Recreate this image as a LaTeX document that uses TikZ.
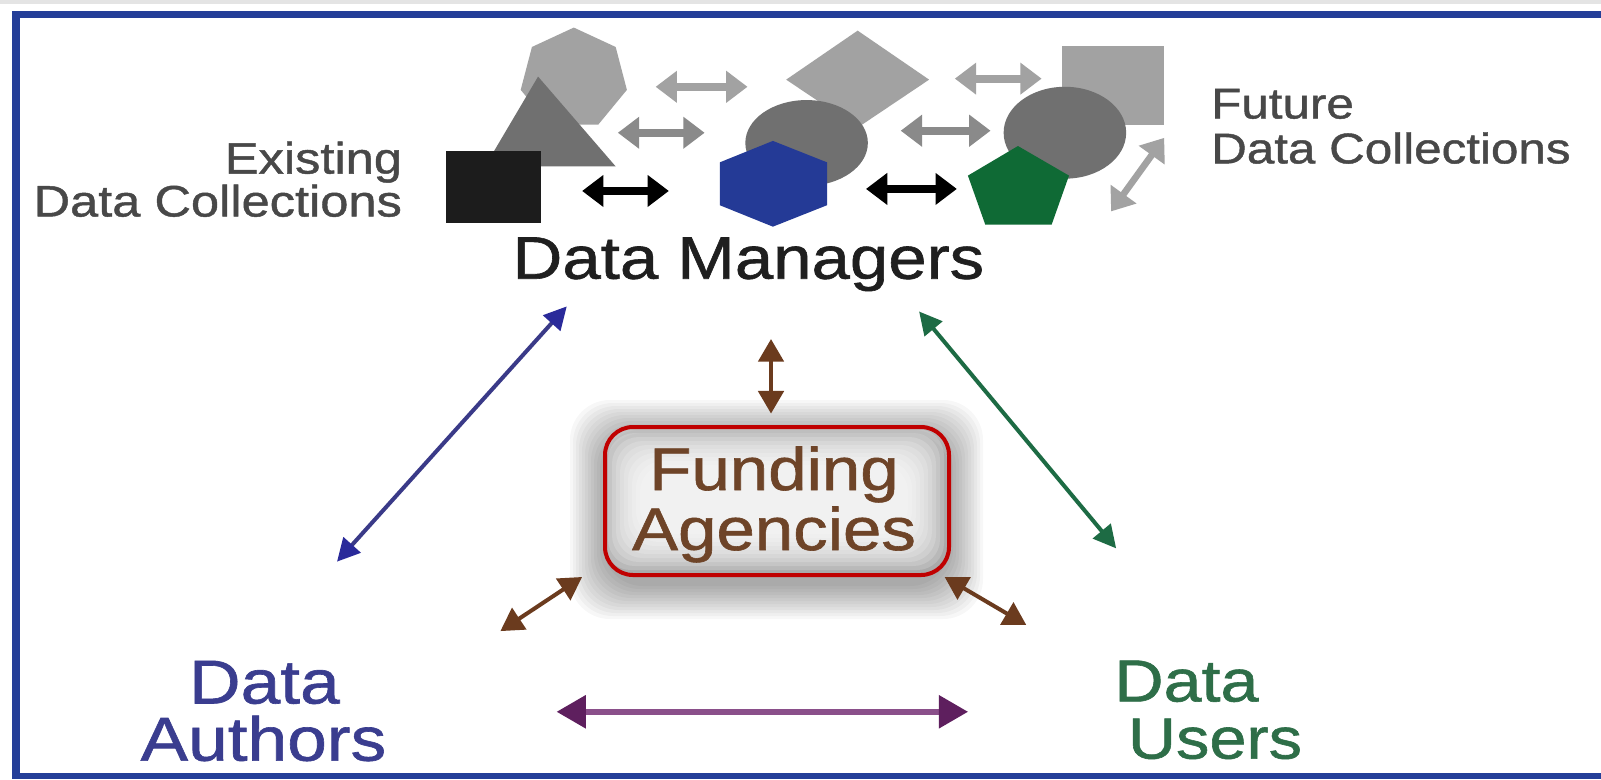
\documentclass[tikz,border=0pt]{standalone}
\usepackage{fontspec}
\setmainfont{Liberation Sans}[FakeStretch=1.15,FakeBold=1]
\usetikzlibrary{arrows.meta,shapes.geometric}
\definecolor{frameblue}{HTML}{243E98}
\definecolor{stripgray}{HTML}{E4E4E4}
\definecolor{sqblack}{HTML}{1C1C1C}
\definecolor{lgray}{HTML}{A2A2A2}
\definecolor{mgray}{HTML}{707070}
\definecolor{agray}{HTML}{8A8A8A}
\definecolor{txtgray}{HTML}{484848}
\definecolor{hexblue}{HTML}{243A96}
\definecolor{pentgreen}{HTML}{0F6A35}
\definecolor{brownc}{HTML}{6B3B1E}
\definecolor{fundbrown}{HTML}{6E4428}
\definecolor{navyc}{HTML}{3A3A88}
\definecolor{navyhead}{HTML}{2A2A9A}
\definecolor{greenc}{HTML}{1D6B44}
\definecolor{authblue}{HTML}{3A3D8F}
\definecolor{usergreen}{HTML}{2E6E48}
\definecolor{purplec}{HTML}{8A4F8A}
\definecolor{purplehead}{HTML}{5E1F5E}
\definecolor{boxred}{HTML}{C00000}
\tikzset{
  lbl/.style={inner sep=0pt},
  topar/.style={line width=6pt,{Triangle[length=16pt,width=23pt]}-{Triangle[length=16pt,width=23pt]}},
  linkar/.style={line width=3pt,{Triangle[length=17pt,width=17pt]}-{Triangle[length=17pt,width=17pt]}},
  smallar/.style={line width=3pt,{Triangle[length=17pt,width=19pt]}-{Triangle[length=17pt,width=19pt]}},
}
\begin{document}
\begin{tikzpicture}[x=0.75pt,y=-0.75pt]
\useasboundingbox (0,0) rectangle (1601,779);
\fill[white] (0,0) rectangle (1601,779);
% frame
\fill[stripgray] (0,0) rectangle (1601,4);
\fill[frameblue] (12,11) rectangle (1601,18);
\fill[frameblue] (12,11) rectangle (20,779);
\fill[frameblue] (12,773) rectangle (1601,779);

% funding box glow (true coordinates)
\foreach \i in {1,...,12} {
  \fill[black,opacity=0.03,rounded corners=30pt] ({567+3*\i},{397+3*\i}) rectangle ({986-3*\i},{622-3*\i});
}
\foreach \i in {1,...,10} {
  \fill[white,opacity=0.18,rounded corners=20pt] ({600+4*\i},{425+4*\i}) rectangle ({948-4*\i},{574-4*\i});
}
\node[draw=boxred,line width=3pt,rounded corners=21pt,minimum width=258pt,minimum height=111pt,inner sep=0pt] (box) at (777,501) {};
\node[lbl,anchor=base,color=fundbrown,font=\fontsize{45}{45}\selectfont] (fa1) at (774,490) {Funding};
\node[lbl,anchor=base,color=fundbrown,font=\fontsize{45}{45}\selectfont] (fa2) at (774,550) {Agencies};

\begin{scope}[scale=1.021]
% top shapes
\fill[lgray] (562,27) -- (603,46) -- (614,88) -- (586,122) -- (538,122) -- (510,88) -- (521,46) -- cycle;
\fill[mgray] (527,75) -- (603,163) -- (475,163) -- cycle;
\fill[sqblack] (437,148) rectangle (530,218);
\fill[lgray] (840,30) -- (910,78) -- (840,125) -- (770,78) -- cycle;
\fill[mgray] (790,140) ellipse [x radius=60, y radius=42];
\fill[hexblue] (757,138) -- (810,159) -- (810,201) -- (757,222) -- (705,201) -- (705,159) -- cycle;
\fill[lgray] (1040,45) rectangle (1140,122);
\fill[mgray] (1043,130) ellipse [x radius=60, y radius=45];
\fill[pentgreen] (997,143) -- (1047,172) -- (1030,220) -- (965,220) -- (948,172) -- cycle;

% top arrows
\coordinate (a1l) at (642,85);  \coordinate (a1r) at (732,85);
\coordinate (a2l) at (605,130); \coordinate (a2r) at (690,130);
\coordinate (a3l) at (570,187); \coordinate (a3r) at (655,187);
\coordinate (a4l) at (935,77);  \coordinate (a4r) at (1020,77);
\coordinate (a5l) at (882,128); \coordinate (a5r) at (970,128);
\coordinate (a6l) at (848,185); \coordinate (a6r) at (937,185);
\coordinate (a7l) at (1088,207); \coordinate (a7r) at (1140,135);
\draw[topar,color=lgray] (a1l) -- (a1r);
\draw[topar,color=agray] (a2l) -- (a2r);
\draw[topar,color=black] (a3l) -- (a3r);
\draw[topar,color=lgray] (a4l) -- (a4r);
\draw[topar,color=agray] (a5l) -- (a5r);
\draw[topar,color=black] (a6l) -- (a6r);
\draw[topar,color=lgray,line width=5pt] (a7l) -- (a7r);

% labels top
\node[lbl,anchor=base east,color=txtgray,font=\fontsize{33}{33}\selectfont] (ex1) at (394,170) {Existing};
\node[lbl,anchor=base east,color=txtgray,font=\fontsize{33}{33}\selectfont] (ex2) at (394,212) {Data Collections};
\node[lbl,anchor=base west,color=txtgray,font=\fontsize{32.2}{32.2}\selectfont] (fu1) at (1186,116) {Future};
\node[lbl,anchor=base west,color=txtgray,font=\fontsize{32.2}{32.2}\selectfont] (fu2) at (1186,160) {Data Collections};
\node[lbl,anchor=base,color=black!88,font=\fontsize{45}{45}\selectfont] (dm) at (733,273) {Data Managers};

% bottom labels
\node[lbl,anchor=base,color=authblue,font=\fontsize{46.5}{46.5}\selectfont] (au1) at (259,689) {Data};
\node[lbl,anchor=base,color=authblue,font=\fontsize{46.5}{46.5}\selectfont] (au2) at (258,745) {Authors};
\node[lbl,anchor=base,color=usergreen,font=\fontsize{44.5}{44.5}\selectfont] (us1) at (1162,687) {Data};
\node[lbl,anchor=base,color=usergreen,font=\fontsize{43.5}{43.5}\selectfont] (us2) at (1190,743) {Users};

% connectors
\coordinate (b1) at (555,300); \coordinate (b2) at (330,550);
\coordinate (g1) at (900,305); \coordinate (g2) at (1093,537);
\coordinate (v1) at (755,332); \coordinate (v2) at (755,405);
\coordinate (l1) at (570,565); \coordinate (l2) at (490,618);
\coordinate (r1) at (925,565); \coordinate (r2) at (1005,612);
\coordinate (p1) at (545,697); \coordinate (p2) at (948,697);
\draw[line width=3pt,color=navyc,{Triangle[length=17pt,width=17pt,color=navyhead]}-{Triangle[length=17pt,width=17pt,color=navyhead]}] (b1) -- (b2);
\draw[linkar,color=greenc] (g1) -- (g2);
\draw[smallar,color=brownc] (v1) -- (v2);
\draw[smallar,color=brownc] (l1) -- (l2);
\draw[smallar,color=brownc] (r1) -- (r2);
\draw[line width=4.5pt,color=purplec,{Triangle[length=22pt,width=24pt,color=purplehead]}-{Triangle[length=22pt,width=24pt,color=purplehead]}] (p1) -- (p2);
\end{scope}
\end{tikzpicture}
\end{document}
